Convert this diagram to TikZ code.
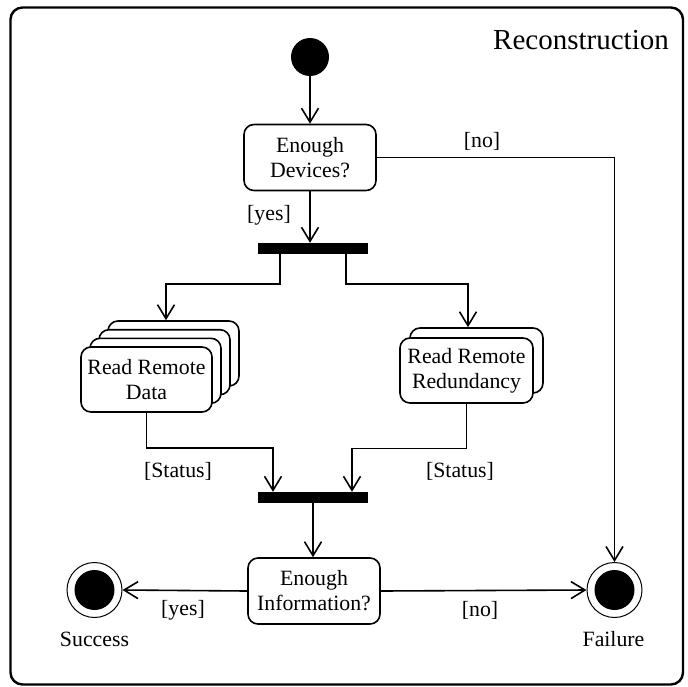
\documentclass[tikz,border=0pt]{standalone}
\usepackage{fontspec}
\setmainfont{Liberation Serif}
\usetikzlibrary{arrows.meta}
\begin{document}
\begin{tikzpicture}[x=1pt,y=-1pt,
  txt/.style={font=\fontsize{21.8}{25}\selectfont, inner sep=0pt, align=center},
  activity/.style={txt, draw, line width=1.6pt, rounded corners=10pt, fill=white,
    minimum width=132pt, minimum height=66pt},
  bar/.style={draw=none, fill=black, minimum width=110pt, minimum height=11pt, inner sep=0pt},
  startnode/.style={circle, fill=black, minimum size=38pt, inner sep=0pt},
  finalnode/.style={circle, draw, line width=1pt, fill=white, minimum size=55pt, inner sep=0pt,
    path picture={\fill[black] (path picture bounding box.center) circle (20pt);}},
  flow/.style={line width=1.6pt, -{Straight Barb[length=14pt,width=17pt,line width=1.6pt]}},
  guard/.style={txt}]
  \useasboundingbox (0,0) rectangle (688,686);
  % frame
  \draw[line width=2.4pt, rounded corners=12pt] (10.5,7.5) rectangle (683,684.5);
  \node[font=\fontsize{29}{33}\selectfont, inner sep=0pt] (title) at (581,40) {Reconstruction};

  % nodes
  \node[startnode] (start) at (310,57) {};
  \node[activity] (dev) at (310,157.5) {Enough\\Devices?};
  \node[bar] (fork) at (312.5,248.5) {};

  % stacked "Read Remote Data" (four copies)
  \node[activity, minimum width=131pt, minimum height=65pt] (d3) at (173.5,353.5) {};
  \node[activity, minimum width=131pt, minimum height=65pt] (d2) at (164.5,362.2) {};
  \node[activity, minimum width=131pt, minimum height=65pt] (d1) at (155.5,370.8) {};
  \node[activity, minimum width=131pt, minimum height=65pt] (d0) at (146.5,379.5) {Read Remote\\Data};

  % stacked "Read Remote Redundancy" (two copies)
  \node[activity, minimum width=133pt, minimum height=65pt] (r1) at (476.5,360.5) {};
  \node[activity, minimum width=133pt, minimum height=65pt] (r0) at (466.5,370.5) {Read Remote\\Redundancy};

  \node[bar] (join) at (313,497.5) {};
  \node[activity] (info) at (314,591) {Enough\\Information?};
  \node[finalnode] (succ) at (94.5,590) {};
  \node[finalnode] (fail) at (614.5,590) {};

  % connectors
  \draw[flow] (start) -- (dev);
  \draw[flow] (dev.south) -- (dev.south |- fork.north);
  \draw[flow] ([xshift=-32.5pt]fork.south) -- ++(0,29.5) -| ([xshift=-7.5pt]d3.north);
  \draw[flow] ([xshift=33.5pt]fork.south) -- ++(0,29.5) -| ([xshift=-8.5pt]r1.north);
  \draw[flow] (d0.south) -- ++(0,35) -| ([xshift=-40pt]join.north);
  \draw[flow] (r0.south) -- ++(0,44.5) -| ([xshift=39pt]join.north);
  \draw[flow] (join.south) -- (join.south |- info.north);
  \draw[flow] (dev.east) -| (fail.north);
  \draw[flow] (info.west) -- (succ.east);
  \draw[flow] (info.east) -- (fail.west);

  % guards and labels
  \node[guard] (gyes1) at (269,215) {[yes]};
  \node[guard] (gno1) at (482,141) {[no]};
  \node[guard] (gst1) at (178,471) {[Status]};
  \node[guard] (gst2) at (460,471) {[Status]};
  \node[guard] (gyes2) at (183,610) {[yes]};
  \node[guard] (gno2) at (480,610) {[no]};
  \node[guard] (lsucc) at (94.5,639) {Success};
  \node[guard] (lfail) at (613.5,639) {Failure};
\end{tikzpicture}
\end{document}
